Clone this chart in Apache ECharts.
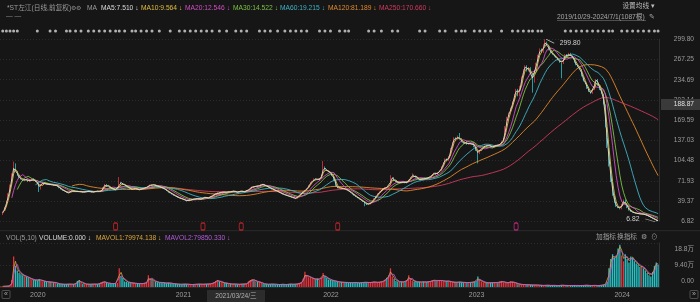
<!DOCTYPE html>
<html><head><meta charset="utf-8">
<script src="https://cdn.jsdelivr.net/npm/echarts@6/dist/echarts.min.js"></script>
<style>html,body{margin:0;padding:0;background:#161616;overflow:hidden}#c{width:700px;height:302px}</style>
</head><body><div id="c"></div>
<script>
// ---- data (one bar ≈ 3 trading days) ----
const closes = [
17,23,30,40,52,66,84,100, 88,80,76, 74,72,75,73,70,74,76,72, 70,68, 58,66,70,
68,66,67,65,66,64,66, 62,60,58,56,55,53, 52,55,57,54,56,
55,54,55,53,54,55,56,54,53,55,56,55,54,56, 62,67,64,63, 60,59,58,57,59, 70,68,
66,65,63, 60,58,59, 59,60,58,57,59,60,61,62, 64,66,65,66,64, 63,62,61,60,58,56,
53,52,50,48,47,45,44, 43,42,41,39,40,42,43, 42,43,44,42,43,45,46,44,45,47,48,
50,52,54,51,53,55,54,53,55, 54,55,56,54,53,55,56,54,55,57,58,
61,63,62,64,63,65,67,66,64,63, 61,60,58,57,56,54,53,51,50,49,48,47,46,45, 44,43,
47,50,53,55,57,60, 65,70,72,76,74,73,75, 82,95,90,88,86, 84,80,72,
62,60,61,59,60,58,57,55, 53,50,48,46,44,42,40,38,36,33, 34,37,40,44,48,52,55,
58,60,62,61,64, 75,78,72,70, 68,70,69,71,68,70, 74,78,82,80,77, 75,73,76,74,77,75,78,
80,83,85,82,86,88, 95,102,108,104,112, 125,135,142,138,145,140,
134,132,135,130,133,131,134, 126,120,115,122,125, 127,129,128,130,127,126,128,130,129,131,
135,140, 160,175,182,190, 200,212,220,208,225, 240,252,258,248, 255,245,230,250,262,
275,285,278,292,296,290, 282,278,275,272,270, 266,262,260, 270,276,272,278,274,270,
262,258,255,252, 240,232,228, 220,215,212,218, 232,236, 225,218,212,
195,158,125,95,70,48, 36,30,28,26, 35,42,36, 28,24,22,21,
20,19.5,19,18.5,18.5,18,17,16,14.5,12.5,11,9.5,7.8,7.5
];
const volumes = [ // 万
0.3,0.3,0.3,0.4,0.4,0.5,
3,13,9,7,6,5.5,5,4.6,4.4,4,3.6,3.2,3,3,2.8,3.4,2.6,2.5,
2.4,2.2,2.3,2.1,2.0,1.9,2.0, 1.4,1.3,1.2,1.2,1.1,1.2,1.3,1.2,1.1,1.2,1.2,
2.6,3.0,2.0, 1.3,1.2,1.3,1.2,1.1,1.2,1.3,1.2,1.2,1.3, 2.0,2.4,2.1,1.8, 1.5,1.4,1.5,1.4,1.6,1.8,
8.0,4.5,3.8, 2.4,2.2,2.0,1.8,1.7,1.6, 1.5,1.4,1.5,1.4,1.5,1.6,2.0, 5.0,3.5,3.0,2.6,2.2,
2.0,1.9,1.8,2.0,1.7,1.6,1.8,1.6,1.5,1.4,
1.3,1.2,1.2,1.1,1.2,1.3,1.2,1.1,1.0,1.1,1.2,1.1,1.2,1.3,1.2,1.1,1.2,1.3,1.2,1.4,1.5,
2.0,2.6,3.0,2.4,2.0,1.8,1.7,1.6, 1.4,1.3,1.2,1.3,1.2,1.1,1.2,1.3,1.2,1.3,1.4,
2.4,3.0,3.4,2.8,2.5,2.2,2.0,1.8,
1.3,1.2,1.2,1.1,1.2,1.3,1.2,1.1,1.0,1.1,1.2,1.1,1.0,1.1,1.2,1.3,1.2,1.1,1.2,1.4,1.6,2.0,
3.5,6.5,5.0,4.2,4.0,3.6, 3.4,3.2,3.6,3.0,4.0,6.0,4.5,3.8,3.2,3.0,2.8,
2.6,2.4,2.2,2.0,2.1,2.0,1.9,2.0,1.8,1.9,
1.8,1.9,2.0,1.8,1.7,1.9,2.0,2.1,1.9,1.8,2.0,2.1,2.2,2.0,1.9,2.1,2.3,2.4,
3.2,4.0,5.0,8.0,4.5,3.5, 2.6,2.3,2.2,2.1,2.2,2.4, 3.0,5.0,3.5,2.6,
2.3,2.2,2.1,2.2,2.0,2.3,2.2,2.1,2.3, 2.5,2.8,3.0,2.6,2.8,3.0,2.6,2.5,2.4,2.6,2.5,
2.2,2.0,2.1,1.9,2.0,2.2,2.0,1.9,2.0,1.8,1.9,2.0,2.1,2.2,2.4, 4.5,3.0,2.4,
2.0,1.8,1.9,1.7,1.8,1.9,2.0,1.8,1.7,2.4,2.6,2.0,1.8,1.7,1.9,2.4,2.2,1.8,1.6,
1.2,1.1,1.0,1.1,1.0,0.9,1.0,0.9,0.8,0.9,0.8,
0.8,0.7,0.7,0.6,0.7,0.8,0.7,0.6,0.7,0.7,0.6,0.6,0.7,0.8,0.7,0.6,0.7,0.6,0.6,0.7,
0.7,0.6,0.6,0.7,0.6,0.7,0.8,0.7,0.6,0.6,0.7,0.7,0.6,0.6,0.7,0.8,0.9,1.2,2.0,
8,12,14,12.5,13,16.5,18,13.5,11,14,12,10.5,13,12.5,11,10,9.5,8.5,9,8,7,6,5,4.5,6.5,9,10.5,9.5
];
const highMarks = [[7,103],[65,78],[177,104],[214,81],[226,84],[252,149],[299,299.8]];
const lowMarks = [[21,54],[200,31],[262,100],[292,214],[308,237],[360,6.82]];
const maNames = ['MA5','MA10','MA20','MA30','MA60','MA120','MA250'];
const maPeriods = [2,3,7,10,20,40,83];
const maColors = ['#dcdcdc','#e2bf3c','#d24fc6','#7cc243','#3fb3c6','#e2892a','#cf3a5e'];
const volMaPeriods = [2,3];
const volMaColors = ['#dca63c','#b35bd8'];
const yearTickIndex = [16,96,177,257,337];
const yearTickLabels = ['2020','2021','2022','2023','2024'];
const priceMin = 6.82, priceMax = 299.80, priceSteps = 9;
const volMax = 18.8, volStep = 9.4;
const newsIdx = [1,3,5,7,9,20,27,30,36,38,41,44,48,51,54,57,60,63,65,68,72,74,77,80,83,87,93,
 98,101,104,107,110,113,116,120,124,129,132,135,142,145,148,152,156,159,162,165,168,175,178,181,
 186,189,191,202,205,209,215,218,230,233,241,244,250,253,255,260,263,266,269,275,281,284,287,290,292,
 295,297,310,313,316,319,322,325,328,331,334,336,341,344,347,350,353,356,359,361];
const eventIdx = [63,111,132,185];
const eventIdx2 = [283];

// ---- build ----
const N = closes.length;
const cats = closes.map((_, i) => String(i));
const ohlc = closes.map((c, i) => {
  const o = i ? closes[i - 1] : c;
  return [o, c, Math.min(o, c), Math.max(o, c)];
});
highMarks.forEach(([i, v]) => { ohlc[i][3] = Math.max(ohlc[i][3], v); });
lowMarks.forEach(([i, v]) => { ohlc[i][2] = Math.min(ohlc[i][2], v); });
function ma(arr, n) {
  return arr.map((_, i) => {
    if (i < n - 1) return '-';
    let s = 0; for (let k = i - n + 1; k <= i; k++) s += arr[k];
    return +(s / n).toFixed(3);
  });
}
const UP = '#e8323c', DOWN = '#27c3c6';
const volData = volumes.map((v, i) => ({ value: v, itemStyle: { color: ohlc[i][1] >= ohlc[i][0] ? UP : DOWN } }));
const FF = "'Liberation Sans','Noto Sans CJK SC',sans-serif";

const grids = [
  { left: 0, right: 41, top: 39.3, height: 182 },
  { left: 0, right: 41, top: 243, height: 44 },
  { left: 0, right: 41, top: 29, height: 4 },
  { left: 0, right: 41, top: 224, height: 5 }
];
const xAxes = grids.map((g, gi) => ({
  type: 'category', data: cats, gridIndex: gi, boundaryGap: true,
  axisLine: { show: gi === 1, lineStyle: { color: '#2a2a2a' } },
  axisTick: { show: false }, splitLine: { show: false },
  axisLabel: gi === 1 ? {
    show: true, color: '#9c9c9c', fontSize: 7, fontFamily: FF, align: 'left', margin: 5,
    interval: (idx) => yearTickIndex.indexOf(idx) >= 0,
    formatter: (v, idx) => { const k = yearTickIndex.indexOf(idx); return k >= 0 ? yearTickLabels[k] : ''; }
  } : { show: false }
}));
const yAxes = [
  { type: 'value', gridIndex: 0, position: 'right', min: priceMin, max: priceMax,
    interval: (priceMax - priceMin) / priceSteps,
    axisLine: { show: true, lineStyle: { color: '#2e2e2e' } }, axisTick: { show: false },
    splitLine: { show: true, lineStyle: { color: '#2b2b2b', type: [1, 2] } },
    axisLabel: { color: '#9c9c9c', fontSize: 6.6, fontFamily: FF, align: 'right', margin: 35,
      formatter: v => v.toFixed(2) } },
  { type: 'value', gridIndex: 1, position: 'right', min: 0, max: volMax, interval: volStep,
    axisLine: { show: true, lineStyle: { color: '#2e2e2e' } }, axisTick: { show: false },
    splitLine: { show: true, lineStyle: { color: '#2b2b2b', type: [1, 2] } },
    axisLabel: { color: '#9c9c9c', fontSize: 6.6, fontFamily: FF, align: 'right', margin: 35,
      formatter: v => v === 0 ? '{b|0.00}' : (v >= volMax - 0.01 ? '{t|' + v.toPrecision(3) + '万}' : v.toPrecision(3) + '万'),
      rich: { t: { padding: [12, 0, 0, 0], fontSize: 6.6, color: '#9c9c9c' }, b: { padding: [0, 0, 12, 0], fontSize: 6.6, color: '#9c9c9c' } } } },
  { type: 'value', gridIndex: 2, min: 0, max: 1, show: false },
  { type: 'value', gridIndex: 3, min: 0, max: 1, show: false }
];

const series = [];
series.push({
  type: 'candlestick', xAxisIndex: 0, yAxisIndex: 0, data: ohlc, barMaxWidth: 1.4,
  itemStyle: { color: UP, color0: DOWN, borderColor: UP, borderColor0: DOWN, borderWidth: 0.8 },
  markPoint: {
    silent: true, animation: false,
    data: [
      { coord: [299, 299.8], value: '299.80', symbol: 'path://M0,0L8,4', symbolSize: [8, 4], symbolOffset: [5, 2],
        itemStyle: { color: 'transparent', borderColor: '#bbbbbb', borderWidth: 0.8 },
        label: { show: true, position: 'right', formatter: '299.80', color: '#d0d0d0', fontSize: 6.8, fontFamily: FF, offset: [0, 2] } },
      { coord: [360, 6.82], value: '6.82', symbol: 'path://M0,0L10,3', symbolSize: [10, 3], symbolOffset: [-6, -1],
        itemStyle: { color: 'transparent', borderColor: '#bbbbbb', borderWidth: 0.8 },
        label: { show: true, position: 'left', formatter: '6.82', color: '#d0d0d0', fontSize: 6.8, fontFamily: FF, offset: [0, -1] } }
    ]
  }
});
maPeriods.forEach((p, k) => series.push({
  name: maNames[k], type: 'line', xAxisIndex: 0, yAxisIndex: 0, data: ma(closes, p),
  showSymbol: false, symbol: 'none', lineStyle: { width: 0.9, color: maColors[k] }, z: 3 + (6 - k) * 0.01
}));
series.push({ type: 'bar', xAxisIndex: 1, yAxisIndex: 1, data: volData, barWidth: '70%' });
volMaPeriods.forEach((p, k) => series.push({
  type: 'line', xAxisIndex: 1, yAxisIndex: 1, data: ma(volumes, p), showSymbol: false, symbol: 'none',
  lineStyle: { width: 0.8, color: volMaColors[k] }
}));
series.push({ type: 'scatter', xAxisIndex: 2, yAxisIndex: 2, data: newsIdx.map(i => [i, 0.5]),
  symbol: 'circle', symbolSize: 3, itemStyle: { color: '#d8d8d8' } });
series.push({ type: 'scatter', xAxisIndex: 3, yAxisIndex: 3, data: eventIdx.map(i => [i, 0.5]),
  symbol: 'roundRect', symbolSize: [4, 7], itemStyle: { color: 'transparent', borderColor: '#d8262e', borderWidth: 1.2 } });
series.push({ type: 'scatter', xAxisIndex: 3, yAxisIndex: 3, data: eventIdx2.map(i => [i, 0.5]),
  symbol: 'roundRect', symbolSize: [4, 7], itemStyle: { color: 'transparent', borderColor: '#d02d8c', borderWidth: 1.2 } });

function T(x, y, text, fill, size, align) {
  return { type: 'text', x, y, silent: true, z: 100,
    style: { text, fill, fontSize: size || 6.7, fontFamily: FF, align: align || 'left', verticalAlign: 'middle' } };
}
const graphic = [
  T(7, 8, '*ST左江(日线,前复权)', '#9c9c9c'),
  T(71, 8, '⚙⚙', '#8a8a8a', 6),
  T(87, 8, 'MA', '#9c9c9c'),
  T(101, 8, 'MA5:7.510 ↓', maColors[0]),
  T(141, 8, 'MA10:9.564 ↓', maColors[1]),
  T(185, 8, 'MA20:12.546 ↓', maColors[2]),
  T(233, 8, 'MA30:14.522 ↓', maColors[3]),
  T(280, 8, 'MA60:19.215 ↓', maColors[4]),
  T(328, 8, 'MA120:81.189 ↓', maColors[5]),
  T(379, 8, 'MA250:170.660 ↓', maColors[6]),
  T(6, 16, '— —', '#8a8a8a'),
  T(655, 6, '设置均线 ▾', '#bdbdbd', 6.7, 'right'),
  T(557, 17, '2019/10/29-2024/7/1(1087根)', '#a8a8a8'),
  { type: 'line', silent: true, shape: { x1: 557, y1: 20.5, x2: 646, y2: 20.5 }, style: { stroke: '#777', lineWidth: 0.6 } },
  T(649, 17, '✎', '#a8a8a8', 6.5),
  T(6, 238, 'VOL(5,10)', '#9c9c9c'),
  T(39, 238, 'VOLUME:0.000 ↓', '#d9d9d9'),
  T(96, 238, 'MAVOL1:79974.138 ↓', volMaColors[0]),
  T(165, 238, 'MAVOL2:79850.330 ↓', volMaColors[1]),
  T(596, 237, '加指标', '#a0a0a0'),
  T(617, 237, '换指标', '#a0a0a0'),
  T(641, 237, '⚙', '#a0a0a0', 6.5),
  T(651, 237, '⊙', '#a0a0a0', 6.5),
  { type: 'line', silent: true, shape: { x1: 0, y1: 230.7, x2: 700, y2: 230.7 }, style: { stroke: '#2a2a2a', lineWidth: 1 } },
  { type: 'rect', silent: true, z: 99, shape: { x: 661, y: 99, width: 39, height: 11 }, style: { fill: '#3a3a3a' } },
  T(694, 104.5, '188.87', '#e0e0e0', 6.6, 'right'),
  { type: 'rect', silent: true, z: 99, shape: { x: 207, y: 290, width: 58, height: 12 }, style: { fill: '#2c2c2c' } },
  T(236, 296, '2021/03/24/三', '#b0b0b0', 6.6, 'center'),
  { type: 'rect', silent: true, shape: { x: 2, y: 290.5, width: 8, height: 8, r: 1 }, style: { fill: 'transparent', stroke: '#666', lineWidth: 0.7 } },
  T(6, 294.5, '«', '#aaa', 7, 'center'),
  { type: 'rect', silent: true, shape: { x: 690, y: 290.5, width: 8, height: 8, r: 1 }, style: { fill: 'transparent', stroke: '#666', lineWidth: 0.7 } },
  T(694, 294.5, '»', '#aaa', 7, 'center')
];

const chart = echarts.init(document.getElementById('c'), null, { renderer: 'canvas' });
chart.setOption({
  backgroundColor: '#161616', animation: false,
  grid: grids, xAxis: xAxes, yAxis: yAxes, series, graphic
});
</script></body></html>
